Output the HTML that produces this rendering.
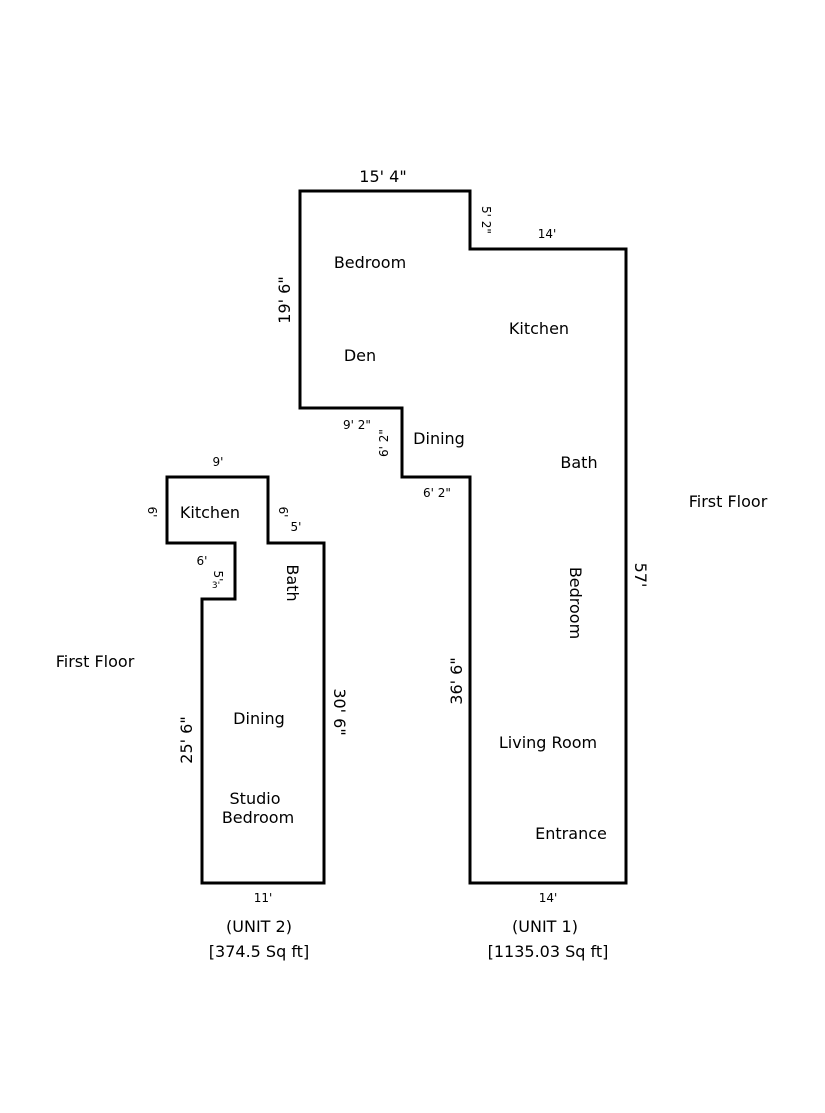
<!DOCTYPE html>
<html><head><meta charset="utf-8"><style>
html,body{margin:0;padding:0;background:#fff;}
svg{display:block;}
text{font-family:"DejaVu Sans","Liberation Sans",sans-serif;fill:#000;}
</style></head><body>
<svg width="825" height="1113" viewBox="0 0 825 1113">
<g fill="none" stroke="#000" stroke-width="3">
<polygon points="300,191 470,191 470,249 626,249 626,883 470,883 470,477 402,477 402,408 300,408"/>
<polygon points="167,477 268,477 268,543 324,543 324,883 202,883 202,599 235,599 235,543 167,543"/>
</g>
<g font-size="16" text-anchor="middle">
<text x="383" y="182">15' 4"</text>
<text x="370" y="268">Bedroom</text>
<text x="539" y="334">Kitchen</text>
<text x="360" y="361">Den</text>
<text x="439" y="444">Dining</text>
<text x="579" y="468">Bath</text>
<text x="728" y="507">First Floor</text>
<text x="95" y="667">First Floor</text>
<text x="548" y="748">Living Room</text>
<text x="571" y="839">Entrance</text>
<text x="210" y="518">Kitchen</text>
<text x="259" y="724">Dining</text>
<text x="255" y="804">Studio</text>
<text x="258" y="823">Bedroom</text>
<text x="259" y="932">(UNIT 2)</text>
<text x="259" y="957">[374.5 Sq ft]</text>
<text x="545" y="932">(UNIT 1)</text>
<text x="548" y="957">[1135.03 Sq ft]</text>
<text transform="translate(284,300) rotate(-90)" dy="6">19' 6"</text>
<text transform="translate(456,681) rotate(-90)" dy="6">36' 6"</text>
<text transform="translate(186,740) rotate(-90)" dy="6">25' 6"</text>
<text transform="translate(340,712) rotate(90)" dy="6">30' 6"</text>
<text transform="translate(641,575) rotate(90)" dy="6">57'</text>
<text transform="translate(576,603) rotate(90)" dy="6">Bedroom</text>
<text transform="translate(293,583) rotate(90)" dy="6">Bath</text>
</g>
<g font-size="12" text-anchor="middle">
<text x="547" y="238">14'</text>
<text x="357" y="429">9' 2"</text>
<text x="437" y="497">6' 2"</text>
<text x="218" y="466">9'</text>
<text x="296" y="531">5'</text>
<text x="202" y="565">6'</text>
<text x="263" y="902">11'</text>
<text x="548" y="902">14'</text>
<text transform="translate(486,220) rotate(90)" dy="4">5' 2"</text>
<text transform="translate(384,443) rotate(-90)" dy="4">6' 2"</text>
<text transform="translate(152,512) rotate(90)" dy="4">6'</text>
<text transform="translate(283,512) rotate(90)" dy="4">6'</text>
<text transform="translate(218,576) rotate(90)" dy="4">5'</text>
<text x="216" y="588" font-size="9">3'</text>
</g>
</svg>
</body></html>
